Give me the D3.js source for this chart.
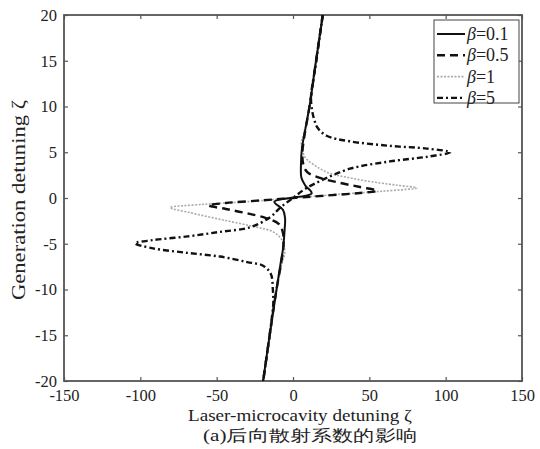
<!DOCTYPE html>
<html>
<head>
<meta charset="utf-8">
<script src="https://cdn.jsdelivr.net/npm/d3@7"></script>
<style>
  body { margin: 0; background: #fff; }
  svg { display: block; }
  text { font-family: "Liberation Serif", "DejaVu Serif", serif; fill: #222; }
</style>
</head>
<body>
<div id="chart"></div>
<script>
// tick labels
var xTicks = [-150, -100, -50, 0, 50, 100, 150];
var yTicks = [-20, -15, -10, -5, 0, 5, 10, 15, 20];

// series: [laser detuning, generation detuning]
var beta01 = [[19.6,20],[15.1,15],[10.8,10],[7.5,7],[5.9,5.5],[5.2,3.5],[5.5,2.2],[7.9,1.4],[12.2,0.5],
  [-12.2,-0.4],[-6.5,-1.3],[-5.2,-2.2],[-5.5,-3.5],[-6.5,-5.5],[-8,-7],[-10.8,-10],[-15.3,-15],[-19.6,-20]];
var beta05 = [[19.5,20],[15.1,15],[10.8,10],[7.2,6.5],[6.2,5],[6.6,3.8],[9.2,2.85],[17.7,2.2],[30.8,1.65],[43.9,1.2],[55,0.8],
  [44,0.55],[20,0.25],[0,0],[-20,-0.25],[-44,-0.55],[-55.5,-0.8],
  [-44,-1.2],[-30.8,-1.65],[-17.7,-2.2],[-9.2,-2.85],[-6.6,-3.8],[-6.2,-5],[-7.2,-6.5],[-10.8,-10],[-15.3,-15],[-19.5,-20]];
var beta1 = [[19.3,20],[15,15],[10.6,10],[7,7],[5.4,6],[7.4,4.6],[9.2,4.2],[15.7,3.4],[24.2,2.7],[37.3,2.2],[52.4,1.75],[68,1.4],[81,1.1],
  [59,0.75],[30,0.4],[0,0],[-30,-0.4],[-59,-0.7],[-80.5,-1.05],
  [-67.5,-1.6],[-45.8,-2.4],[-23.6,-3.2],[-13,-3.7],[-7.2,-4.6],[-5.4,-6],[-7,-7],[-10.6,-10],[-15,-15],[-19.3,-20]];
var beta5 = [[19.4,20],[15.3,15],[11.8,11],[12.6,9.5],[14,8.5],[16,7.7],[22,6.8],[37,6.2],[63.5,5.7],[87.7,5.4],[103,5.0],
  [87.7,4.5],[63.5,4.0],[37.3,3.2],[19.6,2.0],[8,1.0],[0,0],[-8,-1],[-15,-2.1],[-28,-3.2],[-47.8,-3.7],[-69,-4.2],[-91.7,-4.6],[-103.5,-4.95],
  [-91.7,-5.5],[-69,-6.0],[-47.8,-6.4],[-30,-7.0],[-19.6,-7.4],[-14.5,-8.3],[-13.2,-10],[-12.9,-11.5],[-13.8,-13],[-15.3,-15],[-19.6,-20]];

var seriesNames = ["0.1", "0.5", "1", "5"];
var seriesData = [beta01, beta05, beta1, beta5];
var seriesStyle = [
  { stroke: "#111", width: 2, dash: null },
  { stroke: "#111", width: 2.4, dash: "8,5" },
  { stroke: "#aaa", width: 1.6, dash: "2,1.5" },
  { stroke: "#111", width: 2.4, dash: "6,3,2,3" }
];

var W = 540, H = 449;
var mLeft = 64, mRight = 522, mTop = 15, mBottom = 381;

var svg = d3.select('#chart').append('svg')
  .attr('width', W)
  .attr('height', H);

var x = d3.scaleLinear().domain([-150, 150]).range([mLeft, mRight]);
var y = d3.scaleLinear().domain([-20, 20]).range([mBottom, mTop]);

svg.append('clipPath').attr('id', 'clip')
  .append('rect')
  .attr('x', mLeft).attr('y', mTop)
  .attr('width', mRight - mLeft).attr('height', mBottom - mTop);

// axes with inward ticks on all sides
var axisColor = "#555";
var plain = function(d) { return String(d); };
function styleAxis(g) {
  g.select('.domain').remove();
  g.selectAll('.tick line').attr('stroke', axisColor).attr('stroke-width', 1.2);
  g.selectAll('.tick text').attr('font-size', 16.5).attr('fill', '#222')
    .attr('font-family', '"Liberation Serif", serif');
}

svg.append('g').attr('transform', 'translate(0,' + mBottom + ')')
  .call(d3.axisBottom(x).tickValues(xTicks).tickFormat(plain).tickSizeInner(-4).tickSizeOuter(0).tickPadding(8))
  .call(styleAxis);
svg.append('g').attr('transform', 'translate(0,' + mTop + ')')
  .call(d3.axisTop(x).tickValues(xTicks).tickSizeInner(-4).tickSizeOuter(0).tickFormat(''))
  .call(styleAxis);
svg.append('g').attr('transform', 'translate(' + mLeft + ',0)')
  .call(d3.axisLeft(y).tickValues(yTicks).tickFormat(plain).tickSizeInner(-4).tickSizeOuter(0).tickPadding(7))
  .call(styleAxis);
svg.append('g').attr('transform', 'translate(' + mRight + ',0)')
  .call(d3.axisRight(y).tickValues(yTicks).tickSizeInner(-4).tickSizeOuter(0).tickFormat(''))
  .call(styleAxis);

// plot box
svg.append('rect')
  .attr('x', mLeft).attr('y', mTop)
  .attr('width', mRight - mLeft).attr('height', mBottom - mTop)
  .attr('fill', 'none')
  .attr('stroke', axisColor)
  .attr('stroke-width', 1.8);

// curves
var line = d3.line()
  .x(function(d) { return x(d[0]); })
  .y(function(d) { return y(d[1]); })
  .curve(d3.curveCatmullRom.alpha(0.5));

var plot = svg.append('g').attr('clip-path', 'url(#clip)');
// grey first so the black curves sit on top
[2, 1, 3, 0].forEach(function(i) {
  var s = seriesStyle[i];
  plot.append('path')
    .datum(seriesData[i])
    .attr('d', line)
    .attr('fill', 'none')
    .attr('stroke', s.stroke)
    .attr('stroke-width', s.width)
    .attr('stroke-dasharray', s.dash)
    .attr('stroke-linejoin', 'round');
});

// legend
var legend = svg.append('g');
legend.append('rect')
  .attr('x', 434).attr('y', 20)
  .attr('width', 85).attr('height', 83)
  .attr('fill', '#fff')
  .attr('stroke', '#444')
  .attr('stroke-width', 1);

seriesNames.forEach(function(name, i) {
  var cy = 34 + i * 21.3;
  var s = seriesStyle[i];
  legend.append('line')
    .attr('x1', 437).attr('x2', 465)
    .attr('y1', cy).attr('y2', cy)
    .attr('stroke', s.stroke)
    .attr('stroke-width', s.width)
    .attr('stroke-dasharray', s.dash);
  var t = legend.append('text')
    .attr('x', 467).attr('y', cy + 6)
    .attr('font-size', 18);
  t.append('tspan').attr('font-style', 'italic').text('β');
  t.append('tspan').text('=' + name);
});

// axis labels
svg.append('text')
  .attr('x', 300).attr('y', 421)
  .attr('text-anchor', 'middle')
  .attr('font-size', 17)
  .attr('textLength', 224)
  .attr('lengthAdjust', 'spacingAndGlyphs')
  .text('Laser-microcavity detuning ζ');

svg.append('text')
  .attr('transform', 'translate(25,200) rotate(-90)')
  .attr('text-anchor', 'middle')
  .attr('font-size', 18)
  .attr('textLength', 200)
  .attr('lengthAdjust', 'spacingAndGlyphs')
  .text('Generation detuning ζ');

// caption
svg.append('text')
  .attr('x', 310).attr('y', 441)
  .attr('text-anchor', 'middle')
  .attr('font-size', 16)
  .attr('textLength', 214)
  .attr('lengthAdjust', 'spacingAndGlyphs')
  .attr('font-family', '"Liberation Serif", "Noto Sans CJK SC", serif')
  .text('(a)后向散射系数的影响');
</script>
</body>
</html>
